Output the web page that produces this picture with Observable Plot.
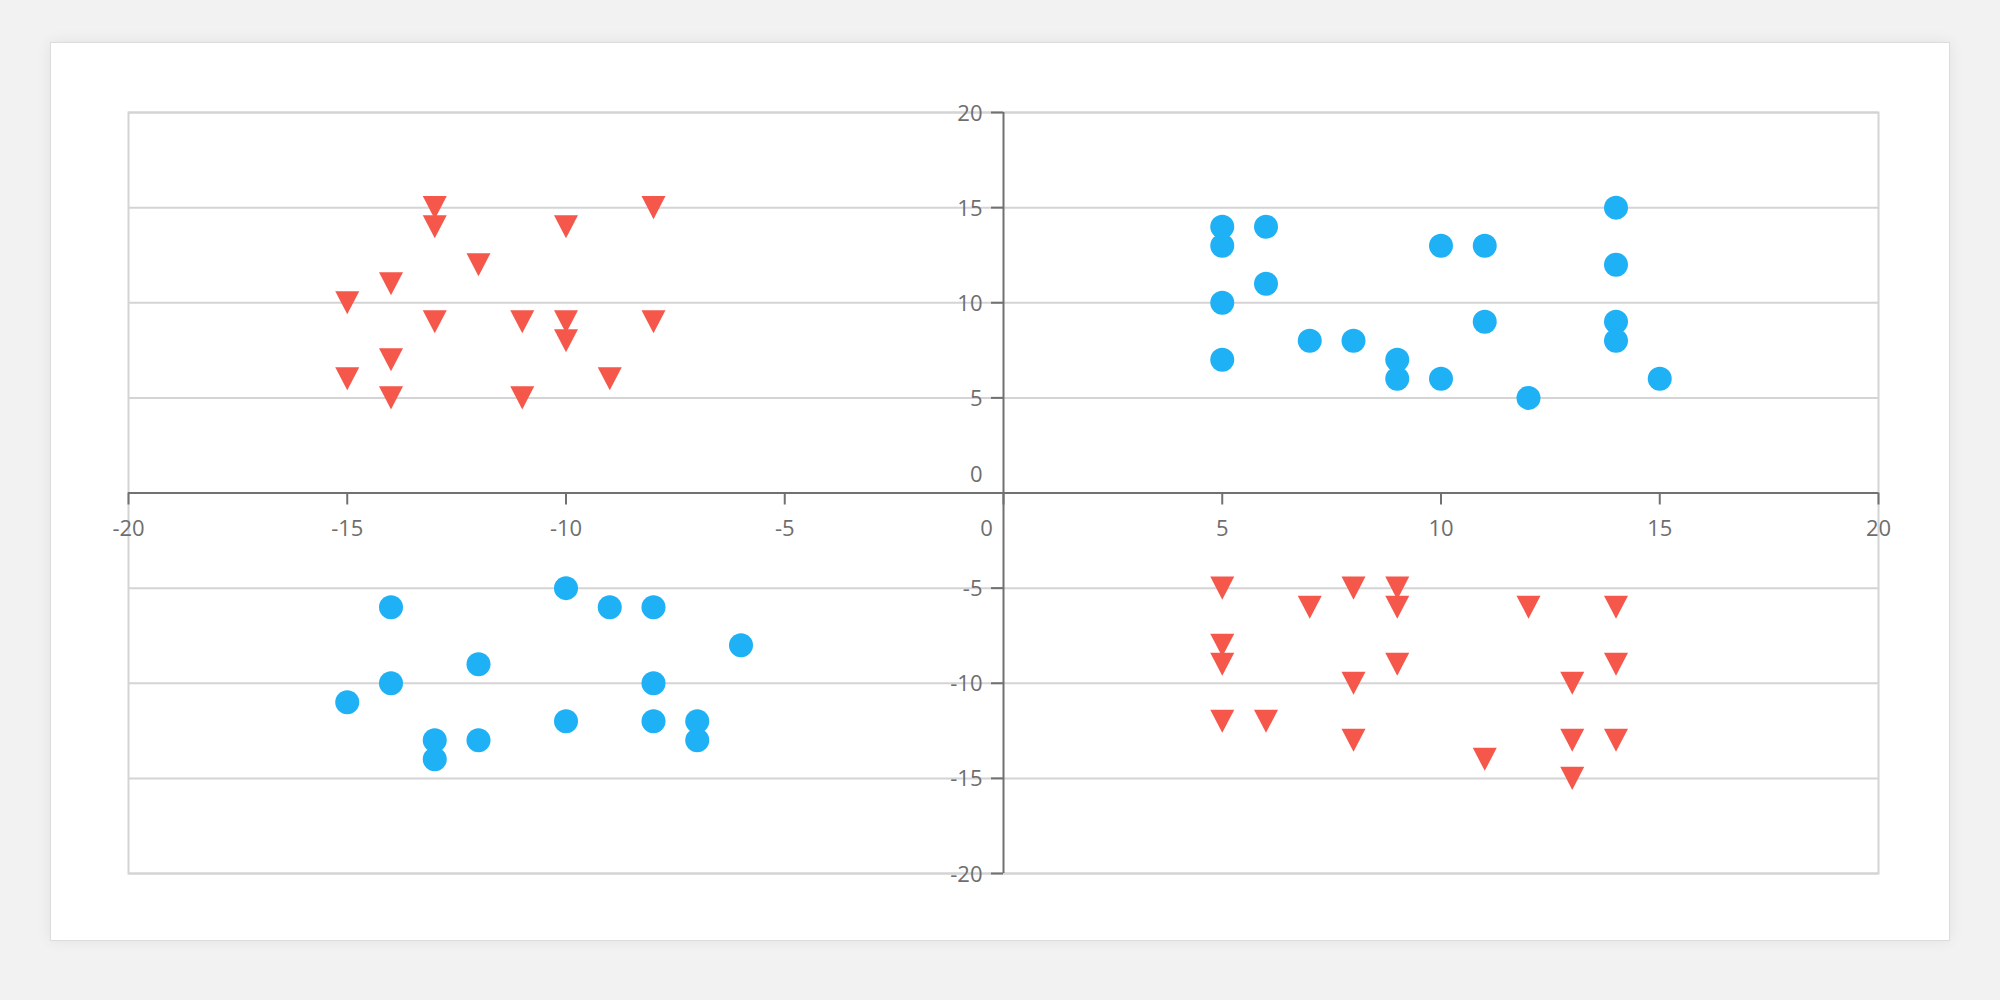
<!DOCTYPE html>
<html>
<head>
<meta charset="utf-8">
<script src="https://cdn.jsdelivr.net/npm/d3@7"></script>
<script src="https://cdn.jsdelivr.net/npm/@observablehq/plot@0.6"></script>
<style>
  html, body { margin: 0; padding: 0; background: #f2f2f2; width: 2000px; height: 1000px; overflow: hidden; }
  #card { position: absolute; left: 50px; top: 42px; width: 1900px; height: 899px; box-sizing: border-box;
          background: #fff; border: 1px solid #dcdcdc; box-shadow: 0 0 14px rgba(0,0,0,0.07); }
  #chart { position: absolute; left: 0; top: 0; }
</style>
</head>
<body>
<div id="card"></div>
<div id="chart"></div>
<script>
// Tick values
const xTicks = [-20, -15, -10, -5, 0, 5, 10, 15, 20];
const yTicks = [20, 15, 10, 5, 0, -5, -10, -15, -20];
const gridY = [20, 15, 10, 5, -5, -10, -15, -20];

// Red triangles, upper-left quadrant
const redTopLeftX = [-13, -13, -13, -8, -8, -10, -10, -10, -12, -14, -14, -14, -15, -15, -11, -11, -9];
const redTopLeftY = [15, 14, 9, 15, 9, 14, 9, 8, 12, 11, 7, 5, 10, 6, 9, 5, 6];

// Red triangles, lower-right quadrant
const redBottomRightX = [5, 5, 5, 5, 6, 7, 8, 8, 8, 9, 9, 9, 11, 12, 13, 13, 13, 14, 14, 14];
const redBottomRightY = [-5, -8, -9, -12, -12, -6, -5, -10, -13, -5, -6, -9, -14, -6, -10, -13, -15, -6, -9, -13];

// Blue circles, upper-right quadrant
const blueTopRightX = [5, 5, 5, 5, 6, 6, 7, 8, 9, 9, 10, 10, 11, 11, 12, 14, 14, 14, 14, 15];
const blueTopRightY = [14, 13, 10, 7, 14, 11, 8, 8, 7, 6, 13, 6, 13, 9, 5, 15, 12, 9, 8, 6];

// Blue circles, lower-left quadrant
const blueBottomLeftX = [-10, -14, -9, -8, -6, -12, -14, -8, -15, -10, -8, -7, -7, -13, -13, -12];
const blueBottomLeftY = [-5, -6, -6, -6, -8, -9, -10, -10, -11, -12, -12, -12, -13, -13, -14, -13];

const zip = (xs, ys) => xs.map((x, i) => ({x, y: ys[i]}));
const redPts = zip(redTopLeftX, redTopLeftY).concat(zip(redBottomRightX, redBottomRightY));
const bluePts = zip(blueTopRightX, blueTopRightY).concat(zip(blueBottomLeftX, blueBottomLeftY));

// Downward-pointing triangle symbol
const triangleDown = {
  draw(context, size) {
    const s = Math.sqrt(size / Math.PI);
    const h = s * 0.96;
    context.moveTo(-s, -h);
    context.lineTo(s, -h);
    context.lineTo(0, h);
    context.closePath();
  }
};

const axisColor = "#717171";
const gridColor = "#d4d4d4";
const labelColor = "#6e6e6e";
const fontSize = 22;

const chart = Plot.plot({
  width: 2000,
  height: 1000,
  marginLeft: 128,
  marginRight: 122,
  marginTop: 112,
  marginBottom: 127,
  x: {domain: [-20, 20], axis: null},
  y: {domain: [-20, 20], axis: null},
  style: {fontFamily: "'Open Sans', sans-serif", background: "transparent"},
  marks: [
    Plot.ruleY(gridY, {y: d => d, stroke: gridColor, strokeWidth: 2}),
    Plot.frame({stroke: gridColor, strokeWidth: 2}),
    Plot.ruleX([0], {x: d => d, stroke: axisColor, strokeWidth: 2}),
    Plot.ruleY([0], {y: d => d, stroke: axisColor, strokeWidth: 2}),
    Plot.ruleX(xTicks, {x: d => d, y1: 0, y2: 0, insetBottom: -12, stroke: axisColor, strokeWidth: 2}),
    Plot.ruleY(yTicks, {y: d => d, x1: 0, x2: 0, insetLeft: -12, stroke: axisColor, strokeWidth: 2}),
    Plot.text(xTicks.filter(v => v !== 0), {x: d => d, y: 0, dy: 36, text: d => String(d), fill: labelColor, fontSize}),
    Plot.text(xTicks.filter(v => v === 0), {x: d => d, y: 0, dy: 36, dx: -17, text: d => String(d), fill: labelColor, fontSize}),
    Plot.text(yTicks.filter(v => v !== 0), {x: 0, y: d => d, dx: -21, dy: 1, textAnchor: "end", text: d => String(d), fill: labelColor, fontSize}),
    Plot.text(yTicks.filter(v => v === 0), {x: 0, y: d => d, dx: -21, dy: -18, textAnchor: "end", text: d => String(d), fill: labelColor, fontSize}),
    Plot.dot(bluePts, {x: "x", y: "y", r: 12, fill: "#1eb1f5", stroke: "none"}),
    Plot.dot(redPts, {x: "x", y: "y", r: 12, symbol: triangleDown, fill: "#f5574b", stroke: "none"})
  ]
});
document.getElementById("chart").appendChild(chart);
</script>
</body>
</html>
